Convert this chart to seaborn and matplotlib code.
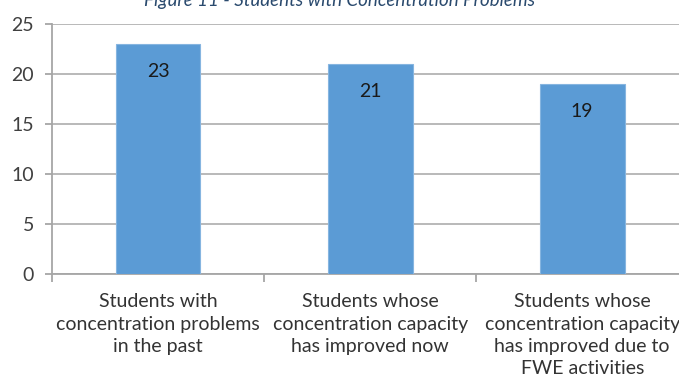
import matplotlib
matplotlib.use("Agg")
import matplotlib.pyplot as plt
import seaborn as sns
import pandas as pd

categories = [
    "Students with\nconcentration problems\nin the past",
    "Students whose\nconcentration capacity\nhas improved now",
    "Students whose\nconcentration capacity\nhas improved due to\nFWE activities",
]
values = [23, 21, 19]
yticks = [0, 5, 10, 15, 20, 25]
title = "Figure 11 - Students with Concentration Problems"

sns.set_style("white")
plt.rcParams['font.family'] = ['Lato', 'DejaVu Sans']

df = pd.DataFrame({"cat": categories, "val": values})

fig = plt.figure(figsize=(6.79, 3.87), dpi=100)
ax = fig.add_axes([0.0766, 0.292, 0.937, 0.646])

sns.barplot(data=df, x="cat", y="val", color="#5B9BD5", width=0.4, saturation=1,
            edgecolor="#86b5e0", linewidth=0.8, ax=ax, zorder=3)

ax.set_xlim(-0.5, 2.5)
ax.set_ylim(0, 25)
ax.set_yticks(yticks)
ax.yaxis.grid(True, color="#b3b3b3", linewidth=1.3, zorder=0)
ax.set_axisbelow(True)

for s in ["top", "right"]:
    ax.spines[s].set_visible(False)
for s in ["left", "bottom"]:
    ax.spines[s].set_color("#a6a6a6")
    ax.spines[s].set_linewidth(1.3)

ax.tick_params(axis="y", length=5, width=1.3, color="#a6a6a6", labelsize=14,
               labelcolor="#404040", pad=8, left=True)
ax.tick_params(axis="x", length=0, labelsize=14, labelcolor="#333333", pad=14)
ax.set_xticks([-0.5, 0.5, 1.5, 2.5], minor=True)
ax.tick_params(axis="x", which="minor", length=6, width=1.3, color="#a6a6a6", bottom=True)
for lbl in ax.get_xticklabels():
    lbl.set_linespacing(1.38)

ax.set_xlabel("")
ax.set_ylabel("")

ax.bar_label(ax.containers[0], labels=[str(v) for v in values], padding=-26,
             fontsize=14, color="#1a1a1a")

fig.text(0.5, 1 - 6 / 387, title, ha="center", va="baseline", fontsize=13.5,
         style="italic", color="#2a4a6e")

fig.savefig("out.png", dpi=100)
